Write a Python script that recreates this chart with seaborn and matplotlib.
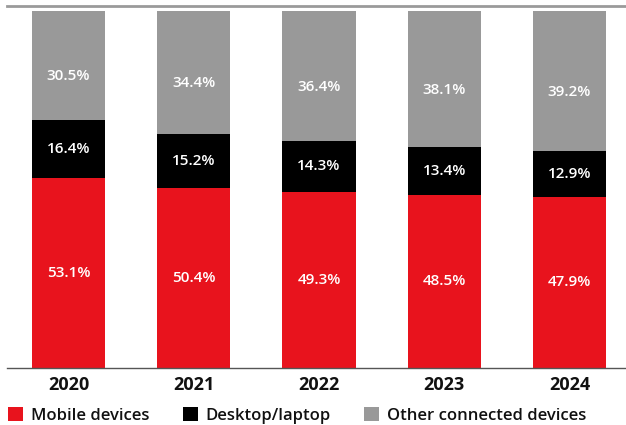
import matplotlib
matplotlib.use("Agg")
import matplotlib.pyplot as plt
from matplotlib.patches import Patch
import seaborn as sns
import pandas as pd
import numpy as np

years = ["2020", "2021", "2022", "2023", "2024"]
mobile = [53.1, 50.4, 49.3, 48.5, 47.9]
desktop = [16.4, 15.2, 14.3, 13.4, 12.9]
other = [30.5, 34.4, 36.4, 38.1, 39.2]
series_names = ["Mobile devices", "Desktop/laptop", "Other connected devices"]

RED = "#E8131D"
BLACK = "#000000"
GRAY = "#999999"

sns.set_theme(style="white")
plt.rcParams["font.family"] = ["Open Sans", "DejaVu Sans"]

m = np.array(mobile)
d = np.array(desktop)
o = np.array(other)
df = pd.DataFrame({
    "year": years,
    "mobile": m,
    "mob_desk": m + d,
    "total": m + d + o,
})

fig = plt.figure(figsize=(6.26, 4.25), dpi=100)
ax = fig.add_axes([7 / 626, 1 - 368 / 425, 1 - 7 / 626, (368 - 6) / 425])

bw = 0.583
sns.barplot(data=df, x="year", y="total", color=GRAY, width=bw, ax=ax,
            saturation=1, linewidth=0)
sns.barplot(data=df, x="year", y="mob_desk", color=BLACK, width=bw, ax=ax,
            saturation=1, linewidth=0)
sns.barplot(data=df, x="year", y="mobile", color=RED, width=bw, ax=ax,
            saturation=1, linewidth=0)

ax.set_xlim(-0.491, 4.451)
ax.set_ylim(0, 101.4)
ax.set_xlabel("")
ax.set_ylabel("")
ax.set_yticks([])
ax.tick_params(axis="x", length=0, pad=6)
for lab in ax.get_xticklabels():
    lab.set_fontsize(13)
    lab.set_fontweight("bold")
    lab.set_color("#111111")

for s in ["left", "right"]:
    ax.spines[s].set_visible(False)
ax.spines["bottom"].set_color("#555555")
ax.spines["bottom"].set_linewidth(1.0)
ax.spines["top"].set_color("#9a9a9a")
ax.spines["top"].set_linewidth(2.0)

lab_kw = dict(ha="center", va="center", color="white", fontsize=11,
              fontweight="semibold")
for i in range(len(years)):
    ax.text(i, m[i] / 2, f"{m[i]:.1f}%", **lab_kw)
    ax.text(i, m[i] + d[i] / 2, f"{d[i]:.1f}%", **lab_kw)
    ax.text(i, m[i] + d[i] + o[i] / 2 - 3, f"{o[i]:.1f}%", **lab_kw)

handles = [Patch(facecolor=c, edgecolor="none") for c in (RED, BLACK, GRAY)]
leg = fig.legend(handles, series_names, loc="center left",
                 bbox_to_anchor=(8 / 626, 1 - 415.5 / 425), ncol=3,
                 frameon=False,
                 handlelength=0.9, handleheight=0.9, handletextpad=0.48,
                 columnspacing=2.0, borderaxespad=0, borderpad=0,
                 prop={"size": 12, "weight": "semibold"})
for t in leg.get_texts():
    t.set_color("#111111")

fig.savefig("out.png", dpi=100)
